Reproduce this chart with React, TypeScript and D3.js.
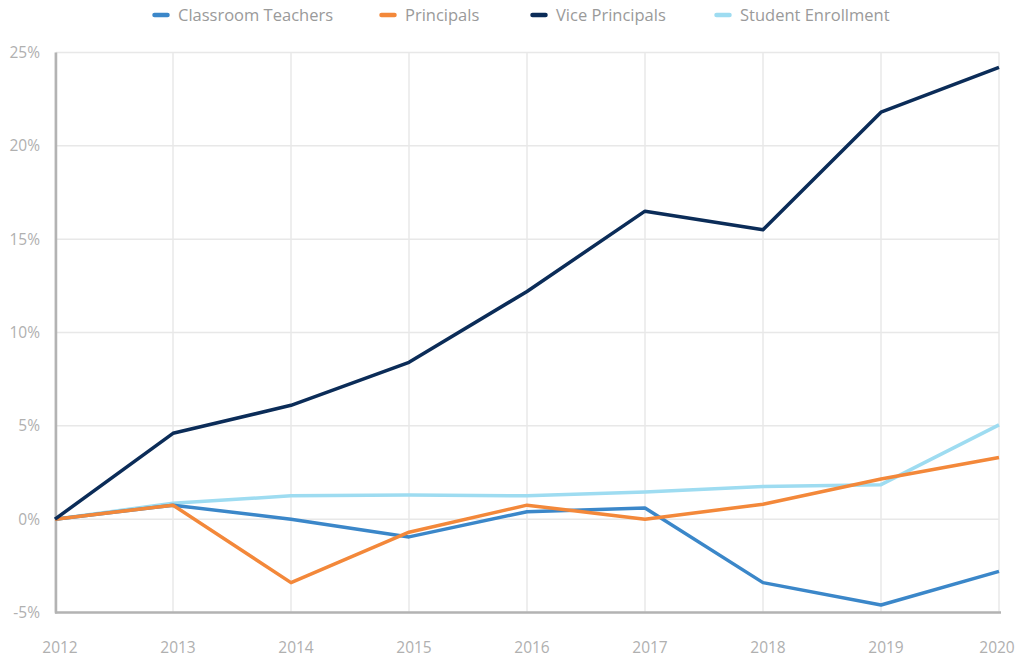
import React from "react";
import * as d3 from "d3";

const years = [2012, 2013, 2014, 2015, 2016, 2017, 2018, 2019, 2020];
const classroomTeachers = [0, 0.75, 0, -0.95, 0.4, 0.6, -3.4, -4.6, -2.8];
const principals = [0, 0.75, -3.4, -0.7, 0.75, 0, 0.8, 2.15, 3.3];
const vicePrincipals = [0, 4.6, 6.1, 8.4, 12.2, 16.5, 15.5, 21.8, 24.2];
const studentEnrollment = [0, 0.85, 1.25, 1.3, 1.25, 1.45, 1.75, 1.85, 5.05];
const yTicks = [-5, 0, 5, 10, 15, 20, 25];

const series = [
  { name: "Classroom Teachers", values: classroomTeachers, color: "#3b87c9" },
  { name: "Principals", values: principals, color: "#f3883a" },
  { name: "Vice Principals", values: vicePrincipals, color: "#0b2c58" },
  { name: "Student Enrollment", values: studentEnrollment, color: "#9edcf1" },
];
const drawOrder = [3, 0, 1, 2];
const legendX = [153, 380, 531, 715];

export default function App() {
  const W = 1021, H = 660;
  const x = d3.scaleLinear().domain([2012, 2020]).range([55, 999]);
  const y = d3.scaleLinear().domain([-5, 25]).range([612.5, 52.5]);
  const line = d3
    .line<number>()
    .x((_, i) => x(years[i]))
    .y((d) => y(d));
  const font = "'Open Sans', 'Noto Sans', sans-serif";
  return (
    <svg
      width={W}
      height={H}
      style={{ position: "absolute", left: 0, top: 0, background: "#fff" }}
      fontFamily={font}
    >
      {yTicks.map((t) => (
        <line key={"h" + t} x1={56} x2={999} y1={y(t)} y2={y(t)} stroke="#e8e8e8" strokeWidth={1.5} />
      ))}
      {years.map((yr) => (
        <line key={"v" + yr} x1={x(yr)} x2={x(yr)} y1={y(25)} y2={y(-5)} stroke="#e8e8e8" strokeWidth={1.5} />
      ))}
      <line x1={56} x2={56} y1={y(25)} y2={y(-5) + 1} stroke="#b3b3b3" strokeWidth={2.5} />
      <line x1={55} x2={1001} y1={y(-5)} y2={y(-5)} stroke="#b3b3b3" strokeWidth={2.5} />
      {yTicks.map((t) => (
        <text key={"yl" + t} x={40} y={y(t)} dy="0.35em" textAnchor="end" fontSize={15.5} fill="#b0b0b0">
          {t + "%"}
        </text>
      ))}
      {years.map((yr) => (
        <text key={"xl" + yr} x={Math.min(x(yr) + 5, 997)} y={648} dy="0.35em" textAnchor="middle" fontSize={15.5} fill="#b0b0b0">
          {yr}
        </text>
      ))}
      {drawOrder.map((i) => (
        <path
          key={series[i].name}
          d={line(series[i].values) || ""}
          fill="none"
          stroke={series[i].color}
          strokeWidth={3.5}
          strokeLinejoin="round"
        />
      ))}
      {series.map((s, i) => (
        <g key={"lg" + s.name} transform={`translate(${legendX[i]},15)`}>
          <line x1={1.5} x2={14.5} y1={0} y2={0} stroke={s.color} strokeWidth={4.5} strokeLinecap="round" />
          <text x={25} y={0} dy="0.35em" fontSize={16.5} fill="#9a9a9a">
            {s.name}
          </text>
        </g>
      ))}
    </svg>
  );
}
